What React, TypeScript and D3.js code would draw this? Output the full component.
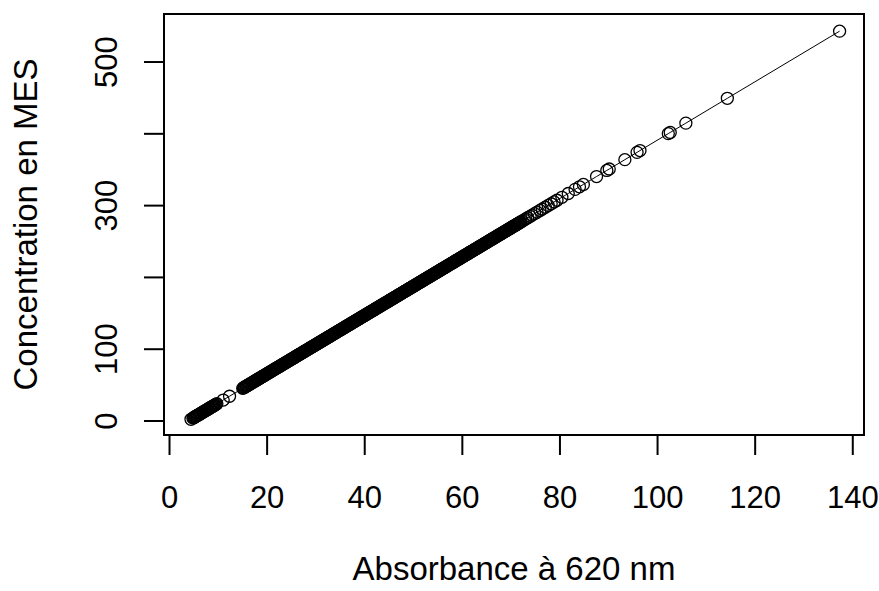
import React from "react";
import * as d3 from "d3";

const xTicks = [0, 20, 40, 60, 80, 100, 120, 140];
const yTicks = [0, 100, 200, 300, 400, 500];
const yTickLabels = ["0", "100", "", "300", "", "500"];
const xTitle = "Absorbance à 620 nm";
const yTitle = "Concentration en MES";

// low-end readings
const absLow = [4.4, 4.8, 5.1, 5.4, 5.7, 6.0, 6.3, 6.6, 6.9, 7.2, 7.5, 7.8, 8.1, 8.4, 8.7, 9.0, 9.3, 9.7, 11.0, 12.3];
const mesLow = [2.4, 4.0, 5.2, 6.5, 7.7, 8.9, 10.1, 11.3, 12.6, 13.8, 15.0, 16.2, 17.5, 18.7, 19.9, 21.1, 22.3, 24.0, 29.2, 34.5];
const absLow2 = [4.95, 5.25, 5.55, 5.85, 6.15, 6.45, 6.75, 7.05, 7.35, 7.65, 7.95, 8.25, 8.55, 8.85, 9.15, 9.5];
const mesLow2 = [4.6, 5.9, 7.1, 8.3, 9.5, 10.7, 12.0, 13.2, 14.4, 15.6, 16.8, 18.1, 19.3, 20.5, 21.7, 23.1];

// dense band readings (set A)
const absMid = [
  15.0, 15.3, 15.6, 15.9, 16.2, 16.5, 16.8, 17.1, 17.4, 17.7, 18.0, 18.3, 18.6, 18.9, 19.2, 19.5, 19.8,
  20.1, 20.4, 20.7, 21.0, 21.3, 21.6, 21.9, 22.2, 22.5, 22.8, 23.1, 23.4, 23.7, 24.0, 24.3, 24.6, 24.9,
  25.2, 25.5, 25.8, 26.1, 26.4, 26.7, 27.0, 27.3, 27.6, 27.9, 28.2, 28.5, 28.8, 29.1, 29.4, 29.7, 30.0,
  30.3, 30.6, 30.9, 31.2, 31.5, 31.8, 32.1, 32.4, 32.7, 33.0, 33.3, 33.6, 33.9, 34.2, 34.5, 34.8, 35.1,
  35.4, 35.7, 36.0, 36.3, 36.6, 36.9, 37.2, 37.5, 37.8, 38.1, 38.4, 38.7, 39.0, 39.3, 39.6, 39.9, 40.2,
  40.5, 40.8, 41.1, 41.4, 41.7, 42.0, 42.3, 42.6, 42.9, 43.2, 43.5, 43.8, 44.1, 44.4, 44.7, 45.0, 45.3,
  45.6, 45.9, 46.2, 46.5, 46.8, 47.1, 47.4, 47.7, 48.0, 48.3, 48.6, 48.9, 49.2, 49.5, 49.8, 50.1, 50.4,
  50.7, 51.0, 51.3, 51.6, 51.9, 52.2, 52.5, 52.8, 53.1, 53.4, 53.7, 54.0, 54.3, 54.6, 54.9, 55.2, 55.5,
  55.8, 56.1, 56.4, 56.7, 57.0, 57.3, 57.6, 57.9, 58.2, 58.5, 58.8, 59.1, 59.4, 59.7, 60.0, 60.3, 60.6,
  60.9, 61.2, 61.5, 61.8, 62.1, 62.4, 62.7, 63.0, 63.3, 63.6, 63.9, 64.2, 64.5, 64.8, 65.1, 65.4, 65.7,
  66.0, 66.3, 66.6, 66.9, 67.2, 67.5, 67.8, 68.1, 68.4, 68.7, 69.0, 69.3, 69.6, 69.9, 70.2, 70.5, 70.8,
  71.1, 71.4, 71.7, 72.0,
];
const mesMid = [
  45.5, 46.7, 48.0, 49.2, 50.4, 51.6, 52.8, 54.1, 55.3, 56.5, 57.7, 58.9, 60.2, 61.4, 62.6, 63.8, 65.0,
  66.3, 67.5, 68.7, 69.9, 71.2, 72.4, 73.6, 74.8, 76.0, 77.2, 78.5, 79.7, 80.9, 82.1, 83.4, 84.6, 85.8,
  87.0, 88.2, 89.5, 90.7, 91.9, 93.1, 94.3, 95.6, 96.8, 98.0, 99.2, 100.4, 101.7, 102.9, 104.1, 105.3, 106.5,
  107.8, 109.0, 110.2, 111.4, 112.6, 113.9, 115.1, 116.3, 117.5, 118.7, 120.0, 121.2, 122.4, 123.6, 124.8, 126.1, 127.3,
  128.5, 129.7, 131.0, 132.2, 133.4, 134.6, 135.8, 137.1, 138.3, 139.5, 140.7, 141.9, 143.2, 144.4, 145.6, 146.8, 148.0,
  149.3, 150.5, 151.7, 152.9, 154.1, 155.4, 156.6, 157.8, 159.0, 160.2, 161.5, 162.7, 163.9, 165.1, 166.3, 167.6, 168.8,
  170.0, 171.2, 172.4, 173.6, 174.9, 176.1, 177.3, 178.5, 179.8, 181.0, 182.2, 183.4, 184.6, 185.9, 187.1, 188.3, 189.5,
  190.7, 192.0, 193.2, 194.4, 195.6, 196.8, 198.1, 199.3, 200.5, 201.7, 202.9, 204.2, 205.4, 206.6, 207.8, 209.0, 210.3,
  211.5, 212.7, 213.9, 215.1, 216.4, 217.6, 218.8, 220.0, 221.2, 222.5, 223.7, 224.9, 226.1, 227.3, 228.6, 229.8, 231.0,
  232.2, 233.4, 234.7, 235.9, 237.1, 238.3, 239.5, 240.8, 242.0, 243.2, 244.4, 245.6, 246.9, 248.1, 249.3, 250.5, 251.8,
  253.0, 254.2, 255.4, 256.6, 257.8, 259.1, 260.3, 261.5, 262.7, 263.9, 265.2, 266.4, 267.6, 268.8, 270.0, 271.3, 272.5,
  273.7, 274.9, 276.1, 277.4,
];

// dense band readings (set B)
const absMid2 = [
  15.15, 15.45, 15.75, 16.05, 16.35, 16.65, 16.95, 17.25, 17.55, 17.85, 18.15, 18.45, 18.75, 19.05, 19.35, 19.65,
  19.95, 20.25, 20.55, 20.85, 21.15, 21.45, 21.75, 22.05, 22.35, 22.65, 22.95, 23.25, 23.55, 23.85, 24.15, 24.45,
  24.75, 25.05, 25.35, 25.65, 25.95, 26.25, 26.55, 26.85, 27.15, 27.45, 27.75, 28.05, 28.35, 28.65, 28.95, 29.25,
  29.55, 29.85, 30.15, 30.45, 30.75, 31.05, 31.35, 31.65, 31.95, 32.25, 32.55, 32.85, 33.15, 33.45, 33.75, 34.05,
  34.35, 34.65, 34.95, 35.25, 35.55, 35.85, 36.15, 36.45, 36.75, 37.05, 37.35, 37.65, 37.95, 38.25, 38.55, 38.85,
  39.15, 39.45, 39.75, 40.05, 40.35, 40.65, 40.95, 41.25, 41.55, 41.85, 42.15, 42.45, 42.75, 43.05, 43.35, 43.65,
  43.95, 44.25, 44.55, 44.85, 45.15, 45.45, 45.75, 46.05, 46.35, 46.65, 46.95, 47.25, 47.55, 47.85, 48.15, 48.45,
  48.75, 49.05, 49.35, 49.65, 49.95, 50.25, 50.55, 50.85, 51.15, 51.45, 51.75, 52.05, 52.35, 52.65, 52.95, 53.25,
  53.55, 53.85, 54.15, 54.45, 54.75, 55.05, 55.35, 55.65, 55.95, 56.25, 56.55, 56.85, 57.15, 57.45, 57.75, 58.05,
  58.35, 58.65, 58.95, 59.25, 59.55, 59.85, 60.15, 60.45, 60.75, 61.05, 61.35, 61.65, 61.95, 62.25, 62.55, 62.85,
  63.15, 63.45, 63.75, 64.05, 64.35, 64.65, 64.95, 65.25, 65.55, 65.85, 66.15, 66.45, 66.75, 67.05, 67.35, 67.65,
  67.95, 68.25, 68.55, 68.85, 69.15, 69.45, 69.75, 70.05, 70.35, 70.65, 70.95, 71.25, 71.55, 71.85,
];
const mesMid2 = [
  46.1, 47.4, 48.6, 49.8, 51.0, 52.2, 53.5, 54.7, 55.9, 57.1, 58.3, 59.6, 60.8, 62.0, 63.2, 64.4,
  65.7, 66.9, 68.1, 69.3, 70.5, 71.8, 73.0, 74.2, 75.4, 76.6, 77.9, 79.1, 80.3, 81.5, 82.7, 84.0,
  85.2, 86.4, 87.6, 88.8, 90.1, 91.3, 92.5, 93.7, 94.9, 96.2, 97.4, 98.6, 99.8, 101.0, 102.3, 103.5,
  104.7, 105.9, 107.2, 108.4, 109.6, 110.8, 112.0, 113.2, 114.5, 115.7, 116.9, 118.1, 119.4, 120.6, 121.8, 123.0,
  124.2, 125.5, 126.7, 127.9, 129.1, 130.3, 131.6, 132.8, 134.0, 135.2, 136.4, 137.7, 138.9, 140.1, 141.3, 142.5,
  143.8, 145.0, 146.2, 147.4, 148.6, 149.9, 151.1, 152.3, 153.5, 154.7, 156.0, 157.2, 158.4, 159.6, 160.8, 162.1,
  163.3, 164.5, 165.7, 166.9, 168.2, 169.4, 170.6, 171.8, 173.0, 174.3, 175.5, 176.7, 177.9, 179.1, 180.4, 181.6,
  182.8, 184.0, 185.2, 186.5, 187.7, 188.9, 190.1, 191.4, 192.6, 193.8, 195.0, 196.2, 197.5, 198.7, 199.9, 201.1,
  202.3, 203.6, 204.8, 206.0, 207.2, 208.4, 209.7, 210.9, 212.1, 213.3, 214.5, 215.8, 217.0, 218.2, 219.4, 220.6,
  221.9, 223.1, 224.3, 225.5, 226.7, 228.0, 229.2, 230.4, 231.6, 232.8, 234.1, 235.3, 236.5, 237.7, 238.9, 240.2,
  241.4, 242.6, 243.8, 245.0, 246.3, 247.5, 248.7, 249.9, 251.2, 252.4, 253.6, 254.8, 256.0, 257.3, 258.5, 259.7,
  260.9, 262.1, 263.4, 264.6, 265.8, 267.0, 268.2, 269.5, 270.7, 271.9, 273.1, 274.3, 275.6, 276.8,
];

// sparse high-end readings
const absHigh = [72.3, 72.7, 73.0, 73.4, 73.9, 74.3, 74.8, 75.3, 75.9, 76.4, 77.0, 77.6, 78.2, 78.8, 79.4, 80.4, 81.7, 83.1, 84.0, 84.8, 87.5, 89.6, 90.1, 93.3, 95.8, 96.4, 102.2, 102.6, 105.8, 114.3, 137.3];
const mesHigh = [278.6, 280.2, 281.5, 283.1, 285.1, 286.8, 288.8, 290.8, 293.3, 295.3, 297.7, 300.2, 302.6, 305.1, 307.5, 311.6, 316.9, 322.6, 326.2, 329.5, 340.5, 349.0, 351.0, 364.0, 374.2, 376.7, 400.3, 401.9, 414.9, 449.5, 543.0];

const W = 879;
const H = 591;
const L = 164, R = 864, T = 14, B = 435;

export default function App() {
  const abs = [...absLow, ...absLow2, ...absMid, ...absMid2, ...absHigh];
  const mes = [...mesLow, ...mesLow2, ...mesMid, ...mesMid2, ...mesHigh];
  const pts = abs
    .map((a, i) => [a, mes[i]] as [number, number])
    .sort((p, q) => p[0] - q[0]);

  const x = d3.scaleLinear().domain([-1.13, 142.3]).range([L, R]);
  const y = d3.scaleLinear().domain([-19.5, 566.9]).range([B, T]);

  const line = d3.line<[number, number]>().x((d) => x(d[0])).y((d) => y(d[1]));
  const font = "'Liberation Sans', Arial, sans-serif";

  return (
    <svg width={W} height={H} style={{ position: "absolute", left: 0, top: 0, background: "#fff" }}>
      <rect x={0} y={0} width={W} height={H} fill="#fff" />
      <path d={line(pts) || ""} fill="none" stroke="#000" strokeWidth={1} />
      {pts.map((p, i) => (
        <circle key={i} cx={x(p[0])} cy={y(p[1])} r={6} fill="none" stroke="#000" strokeWidth={1.3} />
      ))}
      <rect x={L} y={T} width={R - L} height={B - T} fill="none" stroke="#000" strokeWidth={2} />
      {xTicks.map((t) => (
        <g key={"x" + t}>
          <line x1={x(t)} x2={x(t)} y1={B} y2={B + 20} stroke="#000" strokeWidth={2} />
          <text x={x(t)} y={508} textAnchor="middle" fontFamily={font} fontSize={31} fill="#000">
            {t}
          </text>
        </g>
      ))}
      {yTicks.map((t, i) => (
        <g key={"y" + t}>
          <line x1={L - 20} x2={L} y1={y(t)} y2={y(t)} stroke="#000" strokeWidth={2} />
          {yTickLabels[i] && (
            <text
              transform={`translate(117,${y(t)}) rotate(-90)`}
              textAnchor="middle"
              fontFamily={font}
              fontSize={31}
              fill="#000"
            >
              {yTickLabels[i]}
            </text>
          )}
        </g>
      ))}
      <text x={(L + R) / 2} y={580} textAnchor="middle" fontFamily={font} fontSize={33} fill="#000">
        {xTitle}
      </text>
      <text
        transform={`translate(37,${(T + B) / 2}) rotate(-90)`}
        textAnchor="middle"
        fontFamily={font}
        fontSize={33}
        fill="#000"
      >
        {yTitle}
      </text>
    </svg>
  );
}
